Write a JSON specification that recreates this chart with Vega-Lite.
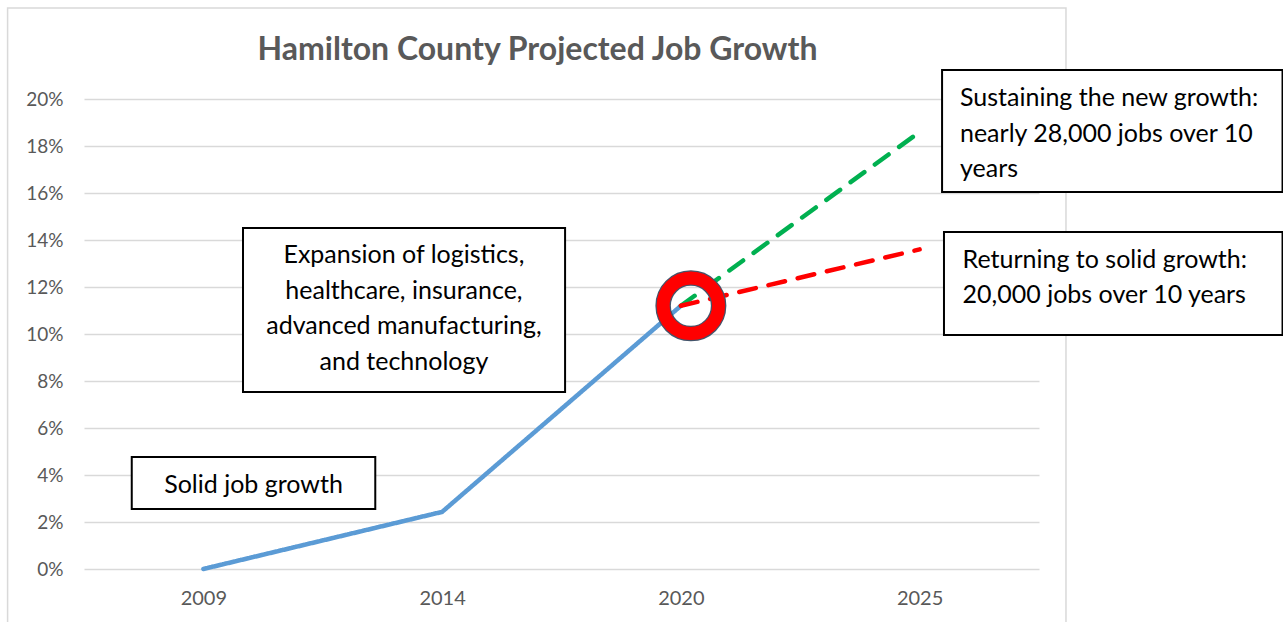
{
  "$schema": "https://vega.github.io/schema/vega-lite/v6.json",
  "width": 955,
  "height": 470,
  "autosize": {"type": "none"},
  "padding": {"left": 84, "top": 99, "right": 244, "bottom": 53},
  "background": "white",
  "config": {"view": {"stroke": null}, "font": "Lato"},
  "title": {
    "text": "Hamilton County Projected Job Growth",
    "fontSize": 32,
    "fontWeight": "bold",
    "color": "#595959",
    "font": "Lato",
    "anchor": "middle",
    "frame": "group",
    "baseline": "alphabetic",
    "offset": -85,
    "dx": -24
  },
  "datasets": {
    "series": [
      {"i": 0, "year": "2009", "pct": 0, "s": "hist"},
      {"i": 1, "year": "2014", "pct": 2.43, "s": "hist"},
      {"i": 2, "year": "2020", "pct": 11.2, "s": "hist"},
      {"i": 2, "year": "2020", "pct": 11.2, "s": "high"},
      {"i": 3, "year": "2025", "pct": 18.6, "s": "high"},
      {"i": 2, "year": "2020", "pct": 11.2, "s": "low"},
      {"i": 3, "year": "2025", "pct": 13.6, "s": "low"}
    ],
    "notes": [
      {"note": "Solid job growth", "side": "center", "x1": -0.3, "x2": 0.72, "y1": 2.55, "y2": 4.77, "tx": 0.21, "ty": 3.57},
      {"note": "Expansion of logistics,\nhealthcare, insurance,\nadvanced manufacturing,\nand technology", "side": "center", "x1": 0.166, "x2": 1.515, "y1": 7.53, "y2": 14.51, "tx": 0.84, "ty": 13.36},
      {"note": "Sustaining the new growth:\nnearly 28,000 jobs over 10\nyears", "side": "left", "x1": 3.094, "x2": 4.52, "y1": 16.04, "y2": 21.23, "tx": 3.169, "ty": 20.04},
      {"note": "Returning to solid growth:\n20,000 jobs over 10 years", "side": "left", "x1": 3.102, "x2": 4.52, "y1": 9.96, "y2": 14.34, "tx": 3.18, "ty": 13.15}
    ]
  },
  "layer": [
    {
      "data": {"values": [{"x1": -0.82, "x2": 3.613, "y1": 23.87, "y2": -3}]},
      "mark": {"type": "rect", "fill": "transparent", "stroke": "#D9D9D9", "strokeWidth": 1.5},
      "encoding": {
        "x": {
          "field": "x1", "type": "quantitative", "title": null,
          "scale": {"domain": [-0.5, 3.5], "nice": false, "zero": false},
          "axis": {
            "values": [0, 1, 2, 3],
            "labelExpr": "['2009','2014','2020','2025'][datum.value]",
            "grid": false, "domain": false, "ticks": false,
            "labelPadding": 19, "labelFontSize": 20, "labelColor": "#595959", "labelFont": "Lato"
          }
        },
        "x2": {"field": "x2"},
        "y": {
          "field": "y1", "type": "quantitative", "title": null,
          "scale": {"domain": [0, 20], "nice": false, "zero": false},
          "axis": {
            "values": [0, 2, 4, 6, 8, 10, 12, 14, 16, 18, 20],
            "labelExpr": "datum.value + '%'",
            "grid": true, "gridColor": "#D9D9D9", "gridWidth": 1.5,
            "domain": false, "ticks": false,
            "labelPadding": 21, "labelFontSize": 19, "labelColor": "#595959", "labelFont": "Lato"
          }
        },
        "y2": {"field": "y2"}
      }
    },
    {
      "data": {"name": "series"},
      "mark": {"type": "line", "strokeWidth": 4.5, "strokeCap": "round"},
      "encoding": {
        "x": {"field": "i", "type": "quantitative", "title": null, "scale": {"domain": [-0.5, 3.5], "nice": false, "zero": false}},
        "y": {"field": "pct", "type": "quantitative", "title": null, "scale": {"domain": [0, 20], "nice": false, "zero": false}},
        "color": {"field": "s", "type": "nominal", "legend": null,
          "scale": {"domain": ["hist", "high", "low"], "range": ["#5B9BD5", "#00B050", "#FF0000"]}},
        "strokeDash": {"field": "s", "type": "nominal", "legend": null,
          "scale": {"domain": ["hist", "high", "low"], "range": [[1, 0], [17, 13], [17, 13]]}}
      }
    },
    {
      "data": {"values": [{"i": 2, "pct": 11.2}]},
      "mark": {"type": "point", "shape": "circle", "filled": false, "size": 3080, "color": "#44546A", "strokeWidth": 15.5, "xOffset": 10, "opacity": 1},
      "encoding": {
        "x": {"field": "i", "type": "quantitative", "title": null, "scale": {"domain": [-0.5, 3.5], "nice": false, "zero": false}},
        "y": {"field": "pct", "type": "quantitative", "title": null, "scale": {"domain": [0, 20], "nice": false, "zero": false}}
      }
    },
    {
      "data": {"values": [{"i": 2, "pct": 11.2}]},
      "mark": {"type": "point", "shape": "circle", "filled": false, "size": 3080, "color": "#FF0000", "strokeWidth": 13, "xOffset": 10, "opacity": 1},
      "encoding": {
        "x": {"field": "i", "type": "quantitative", "title": null, "scale": {"domain": [-0.5, 3.5], "nice": false, "zero": false}},
        "y": {"field": "pct", "type": "quantitative", "title": null, "scale": {"domain": [0, 20], "nice": false, "zero": false}}
      }
    },
    {
      "data": {"name": "notes"},
      "mark": {"type": "rect", "fill": "white", "stroke": "black", "strokeWidth": 2},
      "encoding": {
        "x": {"field": "x1", "type": "quantitative", "title": null, "scale": {"domain": [-0.5, 3.5], "nice": false, "zero": false}},
        "x2": {"field": "x2"},
        "y": {"field": "y1", "type": "quantitative", "title": null, "scale": {"domain": [0, 20], "nice": false, "zero": false}},
        "y2": {"field": "y2"}
      }
    },
    {
      "data": {"name": "notes"},
      "transform": [{"filter": "datum.side === 'center'"}],
      "mark": {"type": "text", "align": "center", "baseline": "middle", "lineBreak": "\n", "lineHeight": 35.5, "fontSize": 25, "font": "Lato", "color": "black"},
      "encoding": {
        "x": {"field": "tx", "type": "quantitative", "title": null, "scale": {"domain": [-0.5, 3.5], "nice": false, "zero": false}},
        "y": {"field": "ty", "type": "quantitative", "title": null, "scale": {"domain": [0, 20], "nice": false, "zero": false}},
        "text": {"field": "note"}
      }
    },
    {
      "data": {"name": "notes"},
      "transform": [{"filter": "datum.side === 'left'"}],
      "mark": {"type": "text", "align": "left", "baseline": "middle", "lineBreak": "\n", "lineHeight": 35.5, "fontSize": 25, "font": "Lato", "color": "black"},
      "encoding": {
        "x": {"field": "tx", "type": "quantitative", "title": null, "scale": {"domain": [-0.5, 3.5], "nice": false, "zero": false}},
        "y": {"field": "ty", "type": "quantitative", "title": null, "scale": {"domain": [0, 20], "nice": false, "zero": false}},
        "text": {"field": "note"}
      }
    }
  ]
}
